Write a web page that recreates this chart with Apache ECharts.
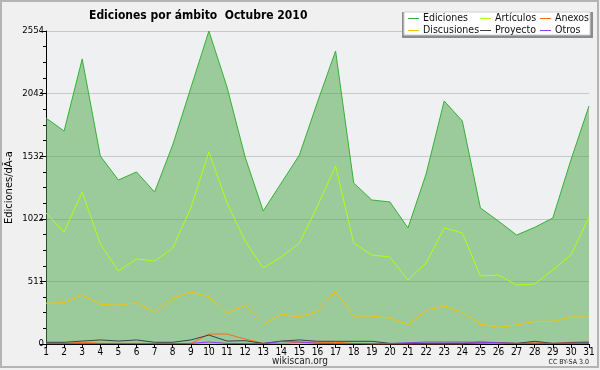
<!DOCTYPE html>
<html>
<head>
<meta charset="utf-8">
<script src="https://cdn.jsdelivr.net/npm/echarts@6/dist/echarts.min.js"></script>
<style>
html,body{margin:0;padding:0;background:#f0f0f0;}
#c{width:600px;height:370px;}
</style>
</head>
<body>
<div id="c"></div>
<script>
var days = ['1','2','3','4','5','6','7','8','9','10','11','12','13','14','15','16','17','18','19','20','21','22','23','24','25','26','27','28','29','30','31'];
var ediciones = [1844,1738,2326,1534,1338,1404,1240,1624,2089,2554,2097,1526,1085,1314,1542,1975,2391,1314,1175,1159,947,1387,1983,1820,1110,1003,889,952,1028,1501,1942];
var articulos = [1069,914,1240,816,596,694,677,783,1110,1567,1151,840,620,710,824,1126,1452,824,726,710,522,661,947,906,555,563,481,490,604,726,1036];
var discusiones = [332,337,400,324,316,337,259,370,425,385,250,316,160,245,220,267,430,228,228,210,160,275,310,259,163,136,155,185,185,220,220];
var anexos = [3,3,14,5,5,5,3,3,2,81,81,41,5,3,14,14,14,5,0,0,0,0,0,0,22,10,5,16,5,14,22];
var proyecto = [14,14,24,33,24,33,14,14,33,73,24,27,5,24,33,22,22,22,22,5,5,5,5,5,8,10,5,22,5,10,10];
var otros = [3,3,3,3,3,3,3,3,5,16,5,3,3,20,16,5,3,3,3,3,10,16,16,16,14,10,5,5,5,5,5];
var yTickLabels = ['0','511','1022','1532','2043','2554'];
var yStep = 510.8;

var F = 'DejaVu Sans Condensed';
var chart = echarts.init(document.getElementById('c'), null, {renderer:'canvas'});

function lineSeries(name, data, color, z){
  return {name:name, type:'line', data:data, symbol:'none', z:z,
    lineStyle:{color:color, width:1}, itemStyle:{color:color}, animation:false};
}

var legendCommon = {orient:'vertical', top:13, itemGap:1, itemWidth:11, itemHeight:1, icon:'rect',
  textStyle:{fontFamily:F, fontSize:10.5, color:'#111', padding:[0,0,0,-1]}, padding:0, selectedMode:false};

chart.setOption({
  backgroundColor:'#f0f0f0',
  animation:false,
  title:{text:'Ediciones por ámbito  Octubre 2010', left:84, top:5,
    textStyle:{fontFamily:F, fontWeight:'bold', fontSize:12, color:'#000'}},
  graphic:[
    {type:'rect', shape:{x:1, y:1, width:597, height:366}, style:{fill:'none', stroke:'#b4b4b4', lineWidth:2}, z:-1},
    {type:'rect', shape:{x:402, y:12, width:191, height:26}, style:{fill:'#8c8c8c'}, z:1},
    {type:'rect', shape:{x:404, y:12, width:186, height:23}, style:{fill:'#ffffff', stroke:'#d0d0d0', lineWidth:1}, z:2},
    {type:'text', x:300, y:361, style:{text:'wikiscan.org', fontFamily:F, fontSize:10, fill:'#222', align:'center', verticalAlign:'middle'}, z:3},
    {type:'text', x:589, y:362, style:{text:'CC BY-SA 3.0', fontFamily:F, fontSize:7, fill:'#222', align:'right', verticalAlign:'middle'}, z:3}
  ],
  legend:[
    Object.assign({left:408, data:['Ediciones','Discusiones'], z:5}, legendCommon),
    Object.assign({left:480, data:['Artículos','Proyecto'], z:5}, legendCommon),
    Object.assign({left:540, data:['Anexos','Otros'], z:5}, legendCommon)
  ],
  grid:{left:46, right:11, top:31, bottom:26, show:true, backgroundColor:'#eff0f2', borderWidth:0,
    containLabel:false, outerBoundsMode:'none'},
  xAxis:{type:'category', data:days, boundaryGap:false,
    axisLine:{lineStyle:{color:'#000', width:1}},
    axisTick:{show:true, length:4, lineStyle:{color:'#000'}},
    axisLabel:{fontFamily:F, fontSize:10, color:'#000', margin:3, interval:0},
    splitLine:{show:false}},
  yAxis:{type:'value', min:0, max:2554, interval:yStep,
    name:'Ediciones/dÃ-a', nameLocation:'middle', nameGap:31, nameMoveOverlap:false,
    nameTextStyle:{fontFamily:F, fontSize:11, color:'#000'},
    axisLine:{show:true, lineStyle:{color:'#000', width:1}},
    axisTick:{show:true, length:6, lineStyle:{color:'#000'}},
    minorTick:{show:true, splitNumber:4, length:3, lineStyle:{color:'#000'}},
    axisLabel:{fontFamily:F, fontSize:9.5, color:'#000', margin:2,
      formatter:function(v){ return yTickLabels[Math.round(v/yStep)]; }},
    splitLine:{show:true, lineStyle:{color:'#c8c8c8', width:1}}},
  series:[
    Object.assign(lineSeries('Ediciones', ediciones, '#36b036', 2), {areaStyle:{color:'rgba(71,166,68,0.5)', opacity:1, origin:'start'}}),
    lineSeries('Artículos', articulos, '#b0ff10', 3),
    lineSeries('Anexos', anexos, '#ff6a1a', 4),
    lineSeries('Discusiones', discusiones, '#f5c400', 3),
    lineSeries('Proyecto', proyecto, '#404040', 4),
    lineSeries('Otros', otros, '#8a3cf0', 5)
  ]
});
</script>
</body>
</html>
